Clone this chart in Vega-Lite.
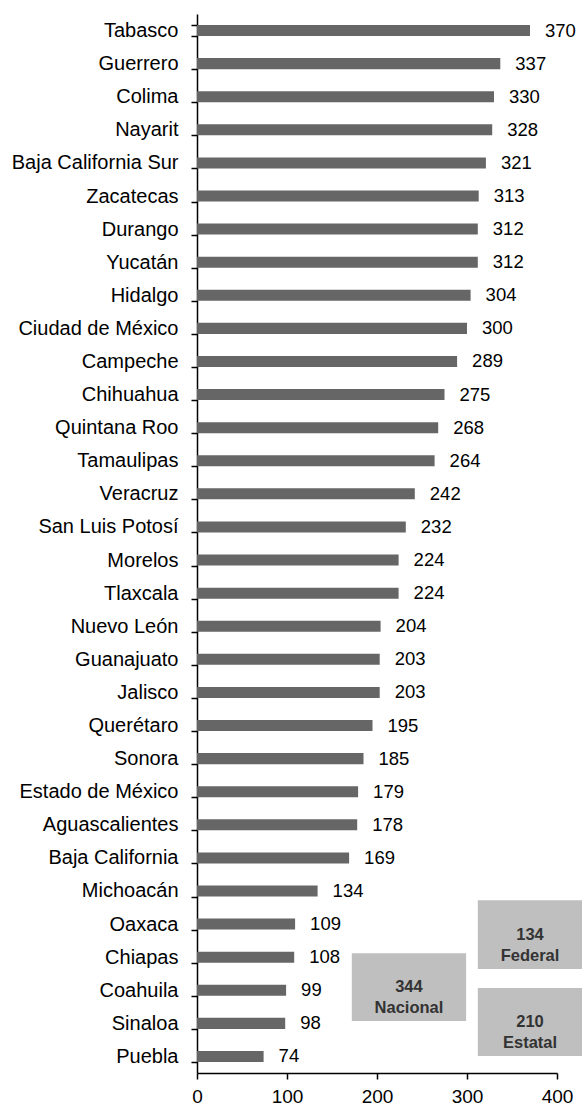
{
  "$schema": "https://vega.github.io/schema/vega-lite/v6.json",
  "width": 360,
  "height": 1059,
  "autosize": {"type": "none"},
  "padding": {"left": 197, "top": 14, "right": 25, "bottom": 35},
  "background": "white",
  "config": {
    "view": {"stroke": null},
    "axis": {
      "domainColor": "#000000",
      "tickColor": "#000000",
      "labelColor": "#000000",
      "labelFont": "Liberation Sans",
      "grid": false,
      "title": null,
      "domainWidth": 1.5,
      "tickWidth": 1.5
    }
  },
  "datasets": {
    "states": [
      {"estado": "Tabasco", "valor": 370},
      {"estado": "Guerrero", "valor": 337},
      {"estado": "Colima", "valor": 330},
      {"estado": "Nayarit", "valor": 328},
      {"estado": "Baja California Sur", "valor": 321},
      {"estado": "Zacatecas", "valor": 313},
      {"estado": "Durango", "valor": 312},
      {"estado": "Yucatán", "valor": 312},
      {"estado": "Hidalgo", "valor": 304},
      {"estado": "Ciudad de México", "valor": 300},
      {"estado": "Campeche", "valor": 289},
      {"estado": "Chihuahua", "valor": 275},
      {"estado": "Quintana Roo", "valor": 268},
      {"estado": "Tamaulipas", "valor": 264},
      {"estado": "Veracruz", "valor": 242},
      {"estado": "San Luis Potosí", "valor": 232},
      {"estado": "Morelos", "valor": 224},
      {"estado": "Tlaxcala", "valor": 224},
      {"estado": "Nuevo León", "valor": 204},
      {"estado": "Guanajuato", "valor": 203},
      {"estado": "Jalisco", "valor": 203},
      {"estado": "Querétaro", "valor": 195},
      {"estado": "Sonora", "valor": 185},
      {"estado": "Estado de México", "valor": 179},
      {"estado": "Aguascalientes", "valor": 178},
      {"estado": "Baja California", "valor": 169},
      {"estado": "Michoacán", "valor": 134},
      {"estado": "Oaxaca", "valor": 109},
      {"estado": "Chiapas", "valor": 108},
      {"estado": "Coahuila", "valor": 99},
      {"estado": "Sinaloa", "valor": 98},
      {"estado": "Puebla", "valor": 74}
    ],
    "boxes": [
      {"texto": "344\nNacional", "x0": 172, "x1": 299, "y0": 28.38, "y1": 30.43, "xc": 235.5, "yc": 29.4},
      {"texto": "134\nFederal", "x0": 312, "x1": 428, "y0": 26.78, "y1": 28.86, "xc": 370, "yc": 27.82},
      {"texto": "210\nEstatal", "x0": 312, "x1": 428, "y0": 29.43, "y1": 31.49, "xc": 370, "yc": 30.46}
    ]
  },
  "layer": [
    {
      "data": {"name": "states"},
      "encoding": {
        "y": {
          "field": "estado",
          "type": "nominal",
          "sort": null,
          "scale": {"paddingInner": 0.667, "paddingOuter": 0.333},
          "axis": {
            "tickBand": "extent",
            "tickSize": 6,
            "labelPadding": 13,
            "labelFontSize": 20,
            "domainWidth": 1.5
          }
        },
        "x": {
          "field": "valor",
          "type": "quantitative",
          "scale": {"domain": [0, 400], "nice": false},
          "axis": {
            "values": [0, 100, 200, 300, 400],
            "tickSize": 6,
            "labelPadding": 8,
            "labelFontSize": 19,
            "labelFlush": false
          }
        }
      },
      "layer": [
        {"mark": {"type": "bar", "color": "#666666"}},
        {
          "mark": {"type": "text", "align": "left", "baseline": "middle", "dx": 15, "font": "Liberation Sans", "fontSize": 18.5, "color": "#000000"},
          "encoding": {"text": {"field": "valor", "type": "quantitative"}}
        }
      ]
    },
    {
      "data": {"name": "boxes"},
      "layer": [
        {
          "mark": {"type": "rect", "color": "#bfbfbf"},
          "encoding": {
            "x": {"field": "x0", "type": "quantitative"},
            "x2": {"field": "x1"},
            "y": {"field": "y0", "type": "quantitative", "axis": null, "scale": {"domain": [0, 32], "reverse": true, "nice": false}},
            "y2": {"field": "y1"}
          }
        },
        {
          "mark": {"type": "text", "align": "center", "baseline": "middle", "lineBreak": "\n", "lineHeight": 21, "font": "Liberation Sans", "fontWeight": "bold", "fontSize": 16.5, "color": "#333333"},
          "encoding": {
            "x": {"field": "xc", "type": "quantitative"},
            "y": {"field": "yc", "type": "quantitative", "axis": null},
            "text": {"field": "texto", "type": "nominal"}
          }
        }
      ]
    }
  ],
  "resolve": {"scale": {"y": "independent"}, "axis": {"y": "independent"}}
}
